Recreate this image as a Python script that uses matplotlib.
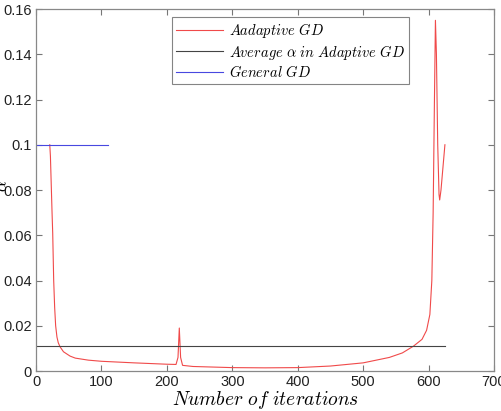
import matplotlib
matplotlib.use("Agg")
import matplotlib.pyplot as plt

plt.rcParams['mathtext.fontset'] = 'cm'
plt.rcParams['font.family'] = ['Liberation Sans', 'DejaVu Sans']

# Adaptive GD learning rate per iteration
adaptive_x = [21, 22, 23, 24.5, 25.5, 27, 28.5, 30, 32, 34, 36.7, 42, 52, 60, 80, 100,
              150, 200, 214, 217, 219, 221, 224, 240, 300, 350, 400, 450, 500, 540,
              560, 577, 590, 597, 602, 605, 607, 609, 610.5, 612, 614, 616, 617, 619,
              622, 625]
adaptive_y = [0.100, 0.095, 0.085, 0.070, 0.061, 0.040, 0.028, 0.020, 0.015, 0.0125,
              0.0107, 0.0085, 0.0066, 0.0057, 0.0048, 0.0043, 0.0036, 0.0030, 0.0029,
              0.006, 0.019, 0.006, 0.0025, 0.0020, 0.0015, 0.0014, 0.0015, 0.0022,
              0.0036, 0.0060, 0.0080, 0.011, 0.014, 0.018, 0.025, 0.040, 0.070, 0.120,
              0.155, 0.140, 0.100, 0.078, 0.0756, 0.080, 0.090, 0.100]
average_x = [0, 625]
average_y = [0.0112, 0.0112]
general_x = [0, 110]
general_y = [0.1, 0.1]

xticks = [0, 100, 200, 300, 400, 500, 600, 700]
yticks = [0, 0.02, 0.04, 0.06, 0.08, 0.1, 0.12, 0.14, 0.16]
ytick_labels = ['0', '0.02', '0.04', '0.06', '0.08', '0.1', '0.12', '0.14', '0.16']
legend_labels = [r'$Aadaptive\ GD$', r'$Average\ \alpha\ in\ Adaptive\ GD$', r'$General\ GD$']

fig = plt.figure(figsize=(5.01, 4.11), dpi=100)
ax = fig.add_axes([0.0719, 0.0973, 0.9141, 0.8808])

ax.plot(adaptive_x, adaptive_y, color='#f04a4a', lw=0.8, label=legend_labels[0])
ax.plot(average_x, average_y, color='#444444', lw=0.8, label=legend_labels[1])
ax.plot(general_x, general_y, color='#4848e0', lw=0.8, label=legend_labels[2])

ax.set_xlim(0, 700)
ax.set_ylim(0, 0.16)
ax.set_xticks(xticks)
ax.set_xticklabels([str(t) for t in xticks])
ax.set_yticks(yticks)
ax.set_yticklabels(ytick_labels)
ax.tick_params(direction='in', length=4, width=0.8, top=True, right=True,
               labelsize=10.5, colors='#222222', pad=3)
ax.tick_params(color='#777777')
for s in ax.spines.values():
    s.set_color('#888888')
    s.set_linewidth(0.9)

ax.set_xlabel(r'$Number\ of\ iterations$', fontsize=14)
ax.xaxis.set_label_coords(0.5, -0.05)
ax.set_ylabel(r'$\alpha$', fontsize=12)
ax.yaxis.set_label_coords(-0.056, 0.51)

leg = ax.legend(loc='upper left', bbox_to_anchor=(0.297, 0.978), fontsize=10.5,
                frameon=True, fancybox=False, edgecolor='#666666',
                handlelength=3.2, handletextpad=0.4, borderpad=0.3,
                labelspacing=0.15, borderaxespad=0)
leg.get_frame().set_linewidth(0.8)

fig.savefig('out.png', dpi=100)
